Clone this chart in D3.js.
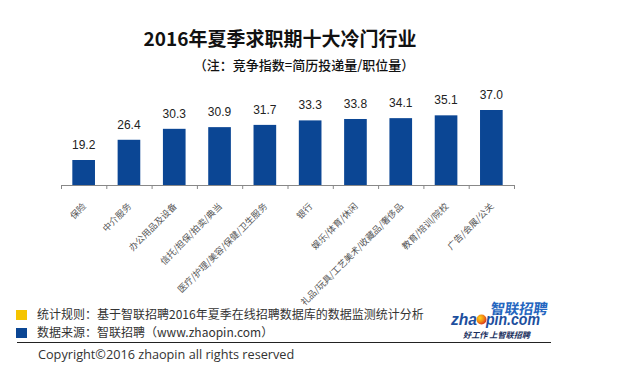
<!DOCTYPE html>
<html>
<head>
<meta charset="utf-8">
<script src="https://cdn.jsdelivr.net/npm/d3@7"></script>
<style>
  html, body { margin: 0; padding: 0; background: #fff; }
  svg { display: block; }
</style>
</head>
<body>
<svg id="chart" width="630" height="372"></svg>
<script>
const categories = [
  '保险', '中介服务', '办公用品及设备', '信托/担保/拍卖/典当',
  '医疗/护理/美容/保健/卫生服务', '银行', '娱乐/体育/休闲',
  '礼品/玩具/工艺美术/收藏品/奢侈品', '教育/培训/院校', '广告/会展/公关'
];
const values = [19.2, 26.4, 30.3, 30.9, 31.7, 33.3, 33.8, 34.1, 35.1, 37.0];

const title = '2016年夏季求职期十大冷门行业';
const subtitle = '（注：竞争指数=简历投递量/职位量）';
const notes = [
  { color: '#f5c400', text: '统计规则：基于智联招聘2016年夏季在线招聘数据库的数据监测统计分析' },
  { color: '#0b4694', text: '数据来源：智联招聘（www.zhaopin.com）' }
];
const copyright = 'Copyright©2016 zhaopin all rights reserved';

const cjk = '"Noto Sans CJK SC", "Noto Sans", sans-serif';
const latin = '"Liberation Sans", Arial, sans-serif';
const svg = d3.select('#chart');

const x = d3.scaleBand()
  .domain(categories)
  .range([61, 514])
  .paddingInner(0.5)
  .paddingOuter(0.25);

// axis does not start at zero in the original
const y = d3.scaleLinear()
  .domain([10.3, 37.0])
  .range([185, 110]);

// title
svg.append('text')
  .attr('x', 280).attr('y', 46)
  .attr('text-anchor', 'middle')
  .attr('font-family', cjk)
  .attr('font-weight', 'bold')
  .attr('font-size', 19)
  .attr('fill', '#111')
  .text(title);

svg.append('text')
  .attr('x', 304).attr('y', 70)
  .attr('text-anchor', 'middle')
  .attr('font-family', cjk)
  .attr('font-weight', 500)
  .attr('font-size', 13)
  .attr('fill', '#111')
  .text(subtitle);

// bars
svg.selectAll('rect.bar')
  .data(values)
  .join('rect')
  .attr('class', 'bar')
  .attr('x', (d, i) => x(categories[i]))
  .attr('y', d => y(d))
  .attr('width', x.bandwidth())
  .attr('height', d => y.range()[0] - y(d))
  .attr('fill', '#0b4694');

svg.selectAll('text.val')
  .data(values)
  .join('text')
  .attr('class', 'val')
  .attr('x', (d, i) => x(categories[i]) + x.bandwidth() / 2)
  .attr('y', d => y(d) - 11)
  .attr('text-anchor', 'middle')
  .attr('font-family', latin)
  .attr('font-size', 12)
  .attr('fill', '#222')
  .text(d => d.toFixed(1));

// category axis with ticks between bands
const base = y.range()[0];
const step = x.step();
const x0 = x.range()[0];
svg.append('line')
  .attr('x1', x0).attr('x2', x.range()[1])
  .attr('y1', base + 0.5).attr('y2', base + 0.5)
  .attr('stroke', '#888');
svg.selectAll('line.tick')
  .data(d3.range(categories.length + 1))
  .join('line')
  .attr('class', 'tick')
  .attr('x1', i => x0 + i * step + 0.5)
  .attr('x2', i => x0 + i * step + 0.5)
  .attr('y1', base).attr('y2', base + 4)
  .attr('stroke', '#888');

svg.selectAll('text.cat')
  .data(categories)
  .join('text')
  .attr('class', 'cat')
  .attr('transform', d => `translate(${x(d) + x.bandwidth() / 2 + 3},${base + 22}) rotate(-45)`)
  .attr('text-anchor', 'end')
  .attr('font-family', cjk)
  .attr('font-size', 9)
  .attr('fill', '#555')
  .text(d => d);

// footer notes
const foot = svg.append('g');
notes.forEach((n, i) => {
  foot.append('rect')
    .attr('x', 16).attr('y', 310 + i * 18)
    .attr('width', 11).attr('height', 10)
    .attr('fill', n.color);
  foot.append('text')
    .attr('x', 37).attr('y', 319 + i * 18)
    .attr('font-family', cjk)
    .attr('font-size', 12)
    .attr('fill', '#333')
    .text(n.text);
});
foot.append('line')
  .attr('x1', 17).attr('x2', 551)
  .attr('y1', 342.5).attr('y2', 342.5)
  .attr('stroke', '#222');
foot.append('text')
  .attr('x', 38).attr('y', 359)
  .attr('font-family', '"Open Sans", sans-serif')
  .attr('font-size', 12.7)
  .attr('fill', '#333')
  .text(copyright);

// zhaopin logo
const logo = svg.append('g');
const grad = svg.append('defs').append('radialGradient')
  .attr('id', 'ball').attr('cx', '35%').attr('cy', '35%').attr('r', '70%');
grad.append('stop').attr('offset', '0%').attr('stop-color', '#ffd21a');
grad.append('stop').attr('offset', '55%').attr('stop-color', '#f28a12');
grad.append('stop').attr('offset', '100%').attr('stop-color', '#d9301c');

logo.append('text')
  .attr('x', 490).attr('y', 314)
  .attr('font-family', cjk)
  .attr('font-weight', 'bold')
  .attr('font-size', 14.5)
  .attr('fill', '#2466c0')
  .attr('textLength', 57)
  .attr('lengthAdjust', 'spacingAndGlyphs')
  .attr('transform', 'translate(44.1,0) skewX(-8)')
  .text('智联招聘');
logo.append('text')
  .attr('x', 451).attr('y', 325)
  .attr('font-family', latin)
  .attr('font-weight', 'bold')
  .attr('font-style', 'italic')
  .attr('font-size', 16)
  .attr('fill', '#1d4f9e')
  .attr('textLength', 26)
  .attr('lengthAdjust', 'spacingAndGlyphs')
  .text('zha');
logo.append('circle')
  .attr('cx', 481.5).attr('cy', 319.5).attr('r', 5)
  .attr('fill', 'url(#ball)');
logo.append('text')
  .attr('x', 486).attr('y', 325)
  .attr('font-family', latin)
  .attr('font-weight', 'bold')
  .attr('font-style', 'italic')
  .attr('font-size', 16)
  .attr('fill', '#1d4f9e')
  .attr('textLength', 54)
  .attr('lengthAdjust', 'spacingAndGlyphs')
  .text('pin.com');
logo.append('text')
  .attr('x', 463).attr('y', 338)
  .attr('font-family', cjk)
  .attr('font-weight', 'bold')
  .attr('font-style', 'italic')
  .attr('font-size', 8)
  .attr('fill', '#1a2f5e')
  .attr('textLength', 67)
  .attr('lengthAdjust', 'spacingAndGlyphs')
  .text('好工作  上智联招聘');
</script>
</body>
</html>
